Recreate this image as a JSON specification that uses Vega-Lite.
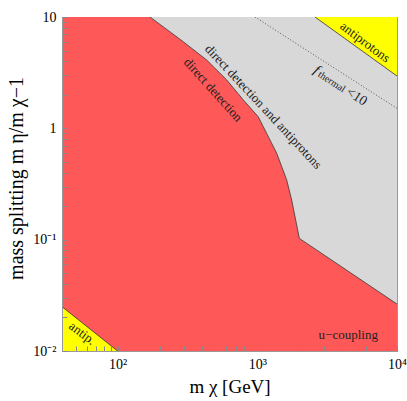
{
  "$schema": "https://vega.github.io/schema/vega-lite/v6.json",
  "width": 335,
  "height": 334,
  "autosize": "none",
  "padding": {"left": 62, "top": 17, "right": 10, "bottom": 50},
  "background": "white",
  "config": {
    "view": {"stroke": "#999", "strokeWidth": 1},
    "font": "Liberation Serif"
  },
  "datasets": {
    "red": [
      {"x": 40, "y": 10},
      {"x": 170.6, "y": 10},
      {"x": 295, "y": 6.0},
      {"x": 434, "y": 4.11},
      {"x": 604, "y": 2.72},
      {"x": 794, "y": 1.80},
      {"x": 1016, "y": 1.27},
      {"x": 1167, "y": 0.90},
      {"x": 1377, "y": 0.597},
      {"x": 1623, "y": 0.344},
      {"x": 1762, "y": 0.227},
      {"x": 2000, "y": 0.1027},
      {"x": 10000, "y": 0.0264}
    ],
    "boundary": [
      {"x": 170.6, "y": 10},
      {"x": 295, "y": 6.0},
      {"x": 434, "y": 4.11},
      {"x": 604, "y": 2.72},
      {"x": 794, "y": 1.80},
      {"x": 1016, "y": 1.27},
      {"x": 1167, "y": 0.90},
      {"x": 1377, "y": 0.597},
      {"x": 1623, "y": 0.344},
      {"x": 1762, "y": 0.227},
      {"x": 2000, "y": 0.1027},
      {"x": 10000, "y": 0.0264}
    ],
    "yellowTop": [
      {"x": 2588, "y": 10},
      {"x": 10000, "y": 2.95}
    ],
    "yellowBottom": [
      {"x": 40, "y": 0.025},
      {"x": 100, "y": 0.01}
    ],
    "dotted": [
      {"x": 963, "y": 10},
      {"x": 10000, "y": 1.51}
    ],
    "labels": [
      {"key": "dd", "x": 482, "y": 2.21, "label": "direct detection"},
      {"key": "dda", "x": 1104, "y": 1.56, "label": "direct detection and antiprotons"},
      {"key": "f", "x": 2661, "y": 3.34, "label": "f"},
      {"key": "th", "x": 3410, "y": 2.62, "label": "thermal"},
      {"key": "lt", "x": 5145, "y": 1.92, "label": "<10"},
      {"key": "ap", "x": 5900, "y": 5.93, "label": "antiprotons"},
      {"key": "apb", "x": 55.8, "y": 0.0144, "label": "antip."},
      {"key": "u", "x": 4478, "y": 0.0139, "label": "u\u2212coupling"}
    ]
  },
  "layer": [
    {
      "data": {"name": "boundary"},
      "mark": {"type": "area", "color": "#d8d8d8", "clip": true},
      "encoding": {
        "x": {"field": "x", "type": "quantitative", "scale": {"type": "log", "domain": [40, 10000], "nice": false},
          "axis": {
            "orient": "bottom",
            "zindex": 1,
            "values": [40, 50, 60, 70, 80, 90, 100, 200, 300, 400, 500, 600, 700, 800, 900, 1000, 2000, 3000, 4000, 5000, 6000, 7000, 8000, 9000, 10000],
            "labelExpr": "datum.value == 100 ? '10²' : datum.value == 1000 ? '10³' : datum.value == 10000 ? '10⁴' : ''",
            "ticks": true,
            "tickColor": "#888",
            "tickSize": -5,
            "domainColor": "#999",
            "grid": false,
            "labelPadding": 11,
            "labelFontSize": 14,
            "labelFont": "Liberation Serif",
            "labelColor": "#000",
            "labelFlush": false,
            "labelOverlap": false,
            "title": "m χ [GeV]",
            "titleFont": "Liberation Serif",
            "titleFontSize": 19,
            "titleFontWeight": "normal",
            "titleColor": "#000",
            "titlePadding": 6
          }},
        "y": {"field": "y", "type": "quantitative", "scale": {"type": "log", "domain": [0.01, 10], "nice": false},
          "axis": {
            "orient": "left",
            "zindex": 1,
            "values": [0.01, 0.02, 0.03, 0.04, 0.05, 0.06, 0.07, 0.08, 0.09, 0.1, 0.2, 0.3, 0.4, 0.5, 0.6, 0.7, 0.8, 0.9, 1, 2, 3, 4, 5, 6, 7, 8, 9, 10],
            "labelExpr": "datum.value == 10 ? '10' : datum.value == 1 ? '1' : datum.value == 0.1 ? '10⁻¹' : datum.value == 0.01 ? '10⁻²' : ''",
            "ticks": true,
            "tickColor": "#888",
            "tickSize": -5,
            "domainColor": "#999",
            "grid": false,
            "labelPadding": 11,
            "labelFontSize": 14,
            "labelFont": "Liberation Serif",
            "labelColor": "#000",
            "labelFlush": false,
            "labelOverlap": false,
            "title": "mass splitting m η/m χ−1",
            "titleFont": "Liberation Serif",
            "titleFontSize": 20,
            "titleFontWeight": "normal",
            "titleColor": "#000",
            "titleX": -36,
            "titleY": 161
          }},
        "y2": {"datum": 10}
      }
    },
    {
      "data": {"name": "red"},
      "mark": {"type": "area", "color": "#ff5858", "clip": true},
      "encoding": {
        "x": {"field": "x", "type": "quantitative"},
        "y": {"field": "y", "type": "quantitative"},
        "y2": {"datum": 0.01}
      }
    },
    {
      "data": {"name": "yellowTop"},
      "mark": {"type": "area", "color": "#ffff00", "clip": true},
      "encoding": {
        "x": {"field": "x", "type": "quantitative"},
        "y": {"field": "y", "type": "quantitative"},
        "y2": {"datum": 10}
      }
    },
    {
      "data": {"name": "yellowBottom"},
      "mark": {"type": "area", "color": "#ffff00", "clip": true},
      "encoding": {
        "x": {"field": "x", "type": "quantitative"},
        "y": {"field": "y", "type": "quantitative"},
        "y2": {"datum": 0.01}
      }
    },
    {
      "data": {"name": "boundary"},
      "mark": {"type": "line", "color": "#333333", "strokeWidth": 0.8, "clip": true},
      "encoding": {
        "x": {"field": "x", "type": "quantitative"},
        "y": {"field": "y", "type": "quantitative"}
      }
    },
    {
      "data": {"name": "yellowTop"},
      "mark": {"type": "line", "color": "#333333", "strokeWidth": 0.8, "clip": true},
      "encoding": {
        "x": {"field": "x", "type": "quantitative"},
        "y": {"field": "y", "type": "quantitative"}
      }
    },
    {
      "data": {"name": "yellowBottom"},
      "mark": {"type": "line", "color": "#333333", "strokeWidth": 0.8, "clip": true},
      "encoding": {
        "x": {"field": "x", "type": "quantitative"},
        "y": {"field": "y", "type": "quantitative"}
      }
    },
    {
      "data": {"name": "dotted"},
      "mark": {"type": "line", "color": "#333333", "strokeWidth": 0.8, "strokeDash": [1, 2], "clip": true},
      "encoding": {
        "x": {"field": "x", "type": "quantitative"},
        "y": {"field": "y", "type": "quantitative"}
      }
    },
    {
      "data": {"name": "labels"},
      "transform": [{"filter": "datum.key == 'dd'"}],
      "mark": {"type": "text", "angle": 48, "fontSize": 13, "font": "Liberation Serif", "color": "#222"},
      "encoding": {
        "x": {"field": "x", "type": "quantitative"},
        "y": {"field": "y", "type": "quantitative"},
        "text": {"field": "label"}
      }
    },
    {
      "data": {"name": "labels"},
      "transform": [{"filter": "datum.key == 'dda'"}],
      "mark": {"type": "text", "angle": 47, "fontSize": 13, "font": "Liberation Serif", "color": "#222"},
      "encoding": {
        "x": {"field": "x", "type": "quantitative"},
        "y": {"field": "y", "type": "quantitative"},
        "text": {"field": "label"}
      }
    },
    {
      "data": {"name": "labels"},
      "transform": [{"filter": "datum.key == 'f'"}],
      "mark": {"type": "text", "angle": 33, "fontSize": 14, "font": "Liberation Serif", "fontStyle": "italic", "color": "#222"},
      "encoding": {
        "x": {"field": "x", "type": "quantitative"},
        "y": {"field": "y", "type": "quantitative"},
        "text": {"field": "label"}
      }
    },
    {
      "data": {"name": "labels"},
      "transform": [{"filter": "datum.key == 'th'"}],
      "mark": {"type": "text", "angle": 33, "fontSize": 10, "font": "Liberation Serif", "color": "#222"},
      "encoding": {
        "x": {"field": "x", "type": "quantitative"},
        "y": {"field": "y", "type": "quantitative"},
        "text": {"field": "label"}
      }
    },
    {
      "data": {"name": "labels"},
      "transform": [{"filter": "datum.key == 'lt'"}],
      "mark": {"type": "text", "angle": 33, "fontSize": 14, "font": "Liberation Serif", "color": "#222"},
      "encoding": {
        "x": {"field": "x", "type": "quantitative"},
        "y": {"field": "y", "type": "quantitative"},
        "text": {"field": "label"}
      }
    },
    {
      "data": {"name": "labels"},
      "transform": [{"filter": "datum.key == 'ap'"}],
      "mark": {"type": "text", "angle": 37, "fontSize": 13, "font": "Liberation Serif", "color": "#222"},
      "encoding": {
        "x": {"field": "x", "type": "quantitative"},
        "y": {"field": "y", "type": "quantitative"},
        "text": {"field": "label"}
      }
    },
    {
      "data": {"name": "labels"},
      "transform": [{"filter": "datum.key == 'apb'"}],
      "mark": {"type": "text", "angle": 37, "fontSize": 13, "font": "Liberation Serif", "color": "#222"},
      "encoding": {
        "x": {"field": "x", "type": "quantitative"},
        "y": {"field": "y", "type": "quantitative"},
        "text": {"field": "label"}
      }
    },
    {
      "data": {"name": "labels"},
      "transform": [{"filter": "datum.key == 'u'"}],
      "mark": {"type": "text", "angle": 0, "fontSize": 13, "font": "Liberation Serif", "color": "#222"},
      "encoding": {
        "x": {"field": "x", "type": "quantitative"},
        "y": {"field": "y", "type": "quantitative"},
        "text": {"field": "label"}
      }
    }
  ]
}
